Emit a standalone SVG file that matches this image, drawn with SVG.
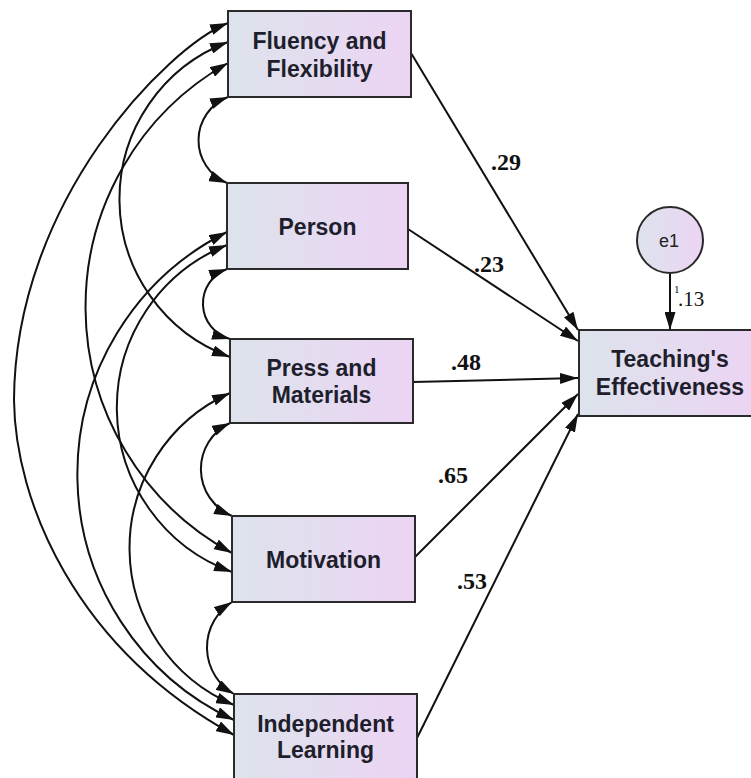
<svg xmlns="http://www.w3.org/2000/svg" width="751" height="778" viewBox="0 0 751 778">
<defs>
<linearGradient id="boxfill" x1="0" y1="0" x2="1" y2="0">
<stop offset="0" stop-color="#dde3ec"/>
<stop offset="1" stop-color="#ecd4f4"/>
</linearGradient>
<marker id="ah" viewBox="0 0 18 11" refX="18" refY="5.5" markerWidth="18" markerHeight="11" markerUnits="userSpaceOnUse" orient="auto-start-reverse">
<path d="M0,0 L18,5.5 L0,11 Z" fill="#111"/>
</marker>
</defs>
<style>
.box{fill:url(#boxfill);stroke:#2a2a2a;stroke-width:2}
.lbl{font-family:"Liberation Sans",Arial,sans-serif;font-weight:bold;font-size:23px;fill:#1e1e2c;text-anchor:middle}
.coef{font-family:"Liberation Serif","Times New Roman",serif;font-weight:bold;font-size:24px;fill:#111}
.cov{fill:none;stroke:#111;stroke-width:2;marker-start:url(#ah);marker-end:url(#ah)}
.path{fill:none;stroke:#111;stroke-width:2;marker-end:url(#ah)}
</style>
<rect width="751" height="778" fill="#fff"/>

<g id="connectors">
<path class="cov" d="M228,97 A46.4,46.4 0 0 0 227,183"/>
<path class="cov" d="M227,269 A36.8,36.8 0 0 0 230,339"/>
<path class="cov" d="M230,423 A51,51 0 0 0 232,516"/>
<path class="cov" d="M232,602 A53.7,53.7 0 0 0 234,694"/>
<path class="cov" d="M228,23 C168,47 15,200 14,400 C15,500 74,647 234,735"/>
<path class="cov" d="M228,42 A168,168 0 0 0 230,357"/>
<path class="cov" d="M228,63 A280,280 0 0 0 232,553"/>
<path class="cov" d="M227,232 A271,271 0 0 0 234,720"/>
<path class="cov" d="M227,245 A175,175 0 0 0 232,572"/>
<path class="cov" d="M230,393 A170,170 0 0 0 234,705"/>
<path class="path" d="M411,53 L578,330"/>
<path class="path" d="M408,229 L578,341"/>
<path class="path" d="M413,382 L578,378"/>
<path class="path" d="M415,557 L578,394"/>
<path class="path" d="M417,738 L578,414"/>
<path class="path" d="M670,273 L670,330"/>
<text class="coef" x="491" y="170">.29</text>
<text class="coef" x="474" y="272">.23</text>
<text class="coef" x="451" y="370">.48</text>
<text class="coef" x="438" y="483">.65</text>
<text class="coef" x="457" y="589">.53</text>
<text x="674" y="293" font-family="Liberation Serif,Times New Roman,serif" font-size="11" fill="#111">1</text>
<text x="678" y="306" font-family="Liberation Serif,Times New Roman,serif" font-size="21" fill="#111">.13</text>
</g>

<g id="fluency">
<rect class="box" x="228" y="11" width="183" height="86"/>
<text class="lbl" x="319.5" y="49">Fluency and</text>
<text class="lbl" x="319.5" y="77">Flexibility</text>
</g>
<g id="person">
<rect class="box" x="227" y="183" width="181" height="86"/>
<text class="lbl" x="317.5" y="235">Person</text>
</g>
<g id="press">
<rect class="box" x="230" y="339" width="183" height="84"/>
<text class="lbl" x="321.5" y="376">Press and</text>
<text class="lbl" x="321.5" y="403">Materials</text>
</g>
<g id="motivation">
<rect class="box" x="232" y="516" width="183" height="86"/>
<text class="lbl" x="323.5" y="568">Motivation</text>
</g>
<g id="independent">
<rect class="box" x="234" y="694" width="183" height="92"/>
<text class="lbl" x="325.5" y="732">Independent</text>
<text class="lbl" x="325.5" y="758">Learning</text>
</g>
<g id="teaching">
<rect class="box" x="579" y="330" width="182" height="86"/>
<text class="lbl" x="670" y="367">Teaching's</text>
<text class="lbl" x="670" y="395">Effectiveness</text>
</g>
<g id="e1">
<circle cx="670" cy="240" r="33" fill="url(#boxfill)" stroke="#2a2a2a" stroke-width="2"/>
<text x="669" y="247" font-family="Liberation Sans,Arial,sans-serif" font-size="18" fill="#222" text-anchor="middle">e1</text>
</g>
</svg>
